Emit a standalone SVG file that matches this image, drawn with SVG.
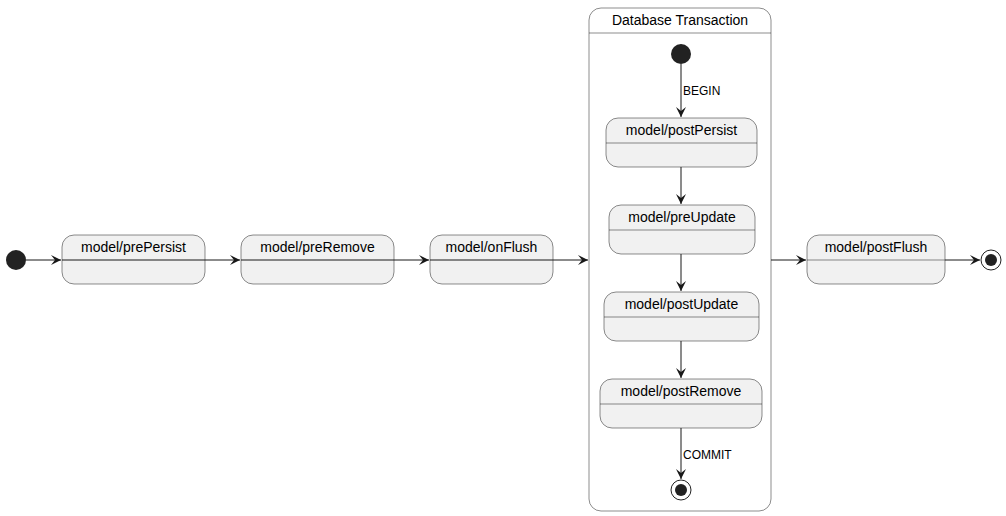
<svg xmlns="http://www.w3.org/2000/svg" width="1006" height="516" viewBox="0 0 1006 516">
<defs>
<style>
.st{fill:#F1F1F1;stroke:#181818;stroke-width:0.5}
.t{font-family:"Liberation Sans",Arial,sans-serif;font-size:14px;fill:#000;text-anchor:middle}
.l{font-family:"Liberation Sans",Arial,sans-serif;font-size:12px;fill:#000}
.c{stroke:#181818;stroke-width:1;fill:none}
</style>
<marker id="a" viewBox="0 0 10 10" refX="10" refY="5" markerWidth="10" markerHeight="10" orient="auto" markerUnits="userSpaceOnUse">
<path d="M0,0 L10,5 L0,10 L4,5 Z" fill="#181818"/>
</marker>
</defs>
<rect width="1006" height="516" fill="#fff"/>
<g id="start"><circle cx="16" cy="260" r="10" fill="#222"/></g>
<g id="prePersist"><rect class="st" x="62" y="235" width="143" height="49" rx="12"/><line class="c" x1="62" y1="260" x2="205" y2="260" stroke-width="0.5"/><text class="t" x="133.5" y="252">model/prePersist</text></g>
<g id="preRemove"><rect class="st" x="241" y="235" width="153" height="49" rx="12"/><line class="c" x1="241" y1="260" x2="394" y2="260" stroke-width="0.5"/><text class="t" x="317.5" y="252">model/preRemove</text></g>
<g id="onFlush"><rect class="st" x="430" y="235" width="123" height="49" rx="12"/><line class="c" x1="430" y1="260" x2="553" y2="260" stroke-width="0.5"/><text class="t" x="491.5" y="252">model/onFlush</text></g>
<g id="tx"><rect x="589" y="8" width="182" height="503" rx="12" fill="#fff" stroke="#181818" stroke-width="0.5"/><line x1="589" y1="33" x2="771" y2="33" stroke="#181818" stroke-width="0.5"/><text class="t" x="680" y="25">Database Transaction</text></g>
<g id="innerStart"><circle cx="681" cy="54" r="10" fill="#222"/></g>
<g id="postPersist"><rect class="st" x="606" y="118" width="151" height="49" rx="12"/><line x1="606" y1="143" x2="757" y2="143" stroke="#181818" stroke-width="0.5"/><text class="t" x="681.5" y="135">model/postPersist</text></g>
<g id="preUpdate"><rect class="st" x="609" y="205" width="146" height="49" rx="12"/><line x1="609" y1="230" x2="755" y2="230" stroke="#181818" stroke-width="0.5"/><text class="t" x="682" y="222">model/preUpdate</text></g>
<g id="postUpdate"><rect class="st" x="604" y="292" width="155" height="49" rx="12"/><line x1="604" y1="317" x2="759" y2="317" stroke="#181818" stroke-width="0.5"/><text class="t" x="681.5" y="309">model/postUpdate</text></g>
<g id="postRemove"><rect class="st" x="600" y="379" width="162" height="49" rx="12"/><line x1="600" y1="404" x2="762" y2="404" stroke="#181818" stroke-width="0.5"/><text class="t" x="681" y="396">model/postRemove</text></g>
<g id="innerEnd"><circle cx="681" cy="490" r="10" fill="none" stroke="#222" stroke-width="1"/><circle cx="681" cy="490" r="6" fill="#222"/></g>
<g id="postFlush"><rect class="st" x="807" y="235" width="138" height="49" rx="12"/><line x1="807" y1="260" x2="945" y2="260" stroke="#181818" stroke-width="0.5"/><text class="t" x="876" y="252">model/postFlush</text></g>
<g id="end"><circle cx="991" cy="260" r="10" fill="none" stroke="#222" stroke-width="1"/><circle cx="991" cy="260" r="6" fill="#222"/></g>
<g id="connectors">
<line class="c" x1="26" y1="260" x2="61" y2="260" marker-end="url(#a)"/>
<line class="c" x1="205" y1="260" x2="240" y2="260" marker-end="url(#a)"/>
<line class="c" x1="394" y1="260" x2="429" y2="260" marker-end="url(#a)"/>
<line class="c" x1="553" y1="260" x2="588" y2="260" marker-end="url(#a)"/>
<line class="c" x1="771" y1="260" x2="806" y2="260" marker-end="url(#a)"/>
<line class="c" x1="945" y1="260" x2="980" y2="260" marker-end="url(#a)"/>
<line class="c" x1="681" y1="64" x2="681" y2="117" marker-end="url(#a)"/>
<line class="c" x1="681" y1="167" x2="681" y2="204" marker-end="url(#a)"/>
<line class="c" x1="681" y1="254" x2="681" y2="291" marker-end="url(#a)"/>
<line class="c" x1="681" y1="341" x2="681" y2="378" marker-end="url(#a)"/>
<line class="c" x1="681" y1="428" x2="681" y2="479" marker-end="url(#a)"/>
<text class="l" x="683" y="95">BEGIN</text>
<text class="l" x="683" y="459">COMMIT</text>
</g>
</svg>
